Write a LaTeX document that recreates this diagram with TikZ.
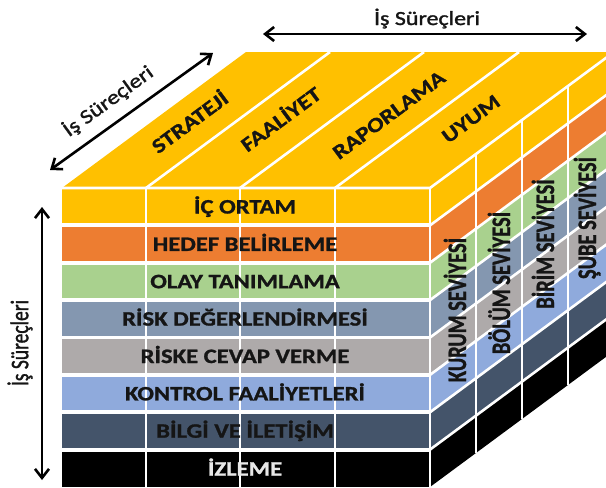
\documentclass[tikz,border=0pt]{standalone}
\usepackage{fontspec}
\setmainfont{Carlito}[FakeStretch=1.2, BoldFeatures={FakeBold=1.2}]
\newfontfamily\uprightfont{Carlito}[BoldFeatures={FakeBold=1.2}]
\newfontfamily\axisfont{Carlito}[FakeStretch=1.2, FakeBold=1.5]
\newfontfamily\uprightaxisfont{Carlito}[FakeBold=1.5]
\usetikzlibrary{arrows.meta}
\definecolor{cubeYellow}{HTML}{FFC000}
\definecolor{cubeOrange}{HTML}{ED7D31}
\definecolor{cubeGreen}{HTML}{A9D18E}
\definecolor{cubeSlate}{HTML}{8497B0}
\definecolor{cubeGrey}{HTML}{AEAAAA}
\definecolor{cubeBlue}{HTML}{8FAADC}
\definecolor{cubeNavy}{HTML}{44546A}
\definecolor{cubeBlack}{HTML}{000000}
\definecolor{ink}{HTML}{151515}
\definecolor{paleink}{HTML}{E8E8E8}
% taller glyphs for text set upright along a vertical line
\newcommand{\tallglyphs}[1]{\scalebox{1}[1.3]{#1}}

\begin{document}
\begin{tikzpicture}[x=1pt,y=-1pt,
  rowlabel/.style={font=\bfseries\fontsize{20.5}{20.5}\selectfont,text=ink,anchor=base,inner sep=0pt},
  toplabel/.style={font=\bfseries\fontsize{20.5}{20.5}\selectfont,text=ink,rotate=36.5,inner sep=0pt},
  sidelabel/.style={font=\uprightfont\bfseries\fontsize{20.5}{20.5}\selectfont,text=ink,rotate=90,anchor=base,inner sep=0pt},
  axislabel/.style={font=\axisfont\fontsize{20}{20}\selectfont,text=ink,inner sep=0pt},
  gridline/.style={draw=white,line width=2.6pt},
  rowgap/.style={draw=white,line width=3.8pt},
  axisarrow/.style={draw=black,line width=2.6pt,{Straight Barb[length=9pt,width=14pt]}-{Straight Barb[length=9pt,width=14pt]}}]

\useasboundingbox (0,0) rectangle (606,488);

\begin{scope}
  \clip (0,0) rectangle (606,488);
  % top face
  \fill[cubeYellow] (62,188) -- (246,52) -- (614,52) -- (430,188) -- cycle;
  % coloured layers: front face and right side face
  \foreach \c [count=\i from 0] in {cubeYellow,cubeOrange,cubeGreen,cubeSlate,cubeGrey,cubeBlue,cubeNavy,cubeBlack} {
    \pgfmathsetmacro\ya{188+37.375*\i}
    \pgfmathsetmacro\yb{188+37.375*(\i+1)}
    \fill[\c] (62,\ya) rectangle (430,\yb);
    \fill[\c] (430,\ya) -- (614,{\ya-136}) -- (614,{\yb-136}) -- (430,\yb) -- cycle;
  }
  % gaps between layers
  \foreach \i in {1,...,7} {
    \pgfmathsetmacro\ya{188+37.375*\i}
    \draw[rowgap] (62,\ya) -- (430,\ya);
    \draw[gridline] (430,\ya) -- (614,{\ya-136});
  }
  % column lines on the front and top faces
  \foreach \x in {146,240,335} {
    \draw[gridline] (\x,188) -- (\x,487);
    \draw[gridline] (\x,188) -- ++(184,-136);
  }
  % cube edges
  \draw[gridline] (62,188) -- (430,188) -- (614,52);
  \draw[gridline] (430,188) -- (430,487);
  % depth slices on the side face
  \foreach \k in {1,2,3}
    \draw[gridline] ({430+46*\k},{188-34*\k}) -- ({430+46*\k},{487-34*\k});
\end{scope}

% layer names
\node[rowlabel] (icortam) at (245,213.5) {İÇ ORTAM};
\node[rowlabel] (hedef)   at (245,250.9) {HEDEF BELİRLEME};
\node[rowlabel] (olay)    at (245,288.2) {OLAY TANIMLAMA};
\node[rowlabel] (risk)    at (245,325.6) {RİSK DEĞERLENDİRMESİ};
\node[rowlabel] (cevap)   at (245,363.0) {RİSKE CEVAP VERME};
\node[rowlabel] (kontrol) at (245,400.4) {KONTROL FAALİYETLERİ};
\node[rowlabel] (bilgi)   at (245,437.7) {BİLGİ VE İLETİŞİM};
\node[rowlabel,text=paleink] (izleme) at (245,475.6) {İZLEME};

% objective names on the top face
\node[toplabel] (strateji)  at (189,121) {STRATEJİ};
\node[toplabel] (faaliyet)  at (280,118) {FAALİYET};
\node[toplabel] (raporlama) at (389,115) {RAPORLAMA};
\node[toplabel] (uyum)      at (471,119) {UYUM};

% organisation levels on the side face
\node[sidelabel] (kurum) at (466,310) {\tallglyphs{KURUM SEVİYESİ}};
\node[sidelabel] (bolum) at (510,283) {\tallglyphs{BÖLÜM SEVİYESİ}};
\node[sidelabel] (birim) at (554,244) {\tallglyphs{BİRİM SEVİYESİ}};
\node[sidelabel] (sube)  at (596,218) {\tallglyphs{ŞUBE SEVİYESİ}};

% axis arrows
\coordinate (topL) at (263,34);
\coordinate (topR) at (587,34);
\draw[axisarrow] (topL) -- (topR);
\node[axislabel,anchor=base] (topaxis) at (427,25) {İş Süreçleri};

\coordinate (diagA) at (50,170);
\coordinate (diagB) at (213,53);
\draw[axisarrow] (diagA) -- (diagB);
\node[axislabel,rotate=36] (diagaxis) at (108,101) {İş Süreçleri};

\coordinate (vertT) at (42,207);
\coordinate (vertB) at (42,480);
\draw[axisarrow] (vertT) -- (vertB);
\node[axislabel,font=\uprightaxisfont\fontsize{19.5}{19.5}\selectfont,rotate=90] (vertaxis) at (20,343) {\tallglyphs{İş Süreçleri}};
\end{tikzpicture}
\end{document}
